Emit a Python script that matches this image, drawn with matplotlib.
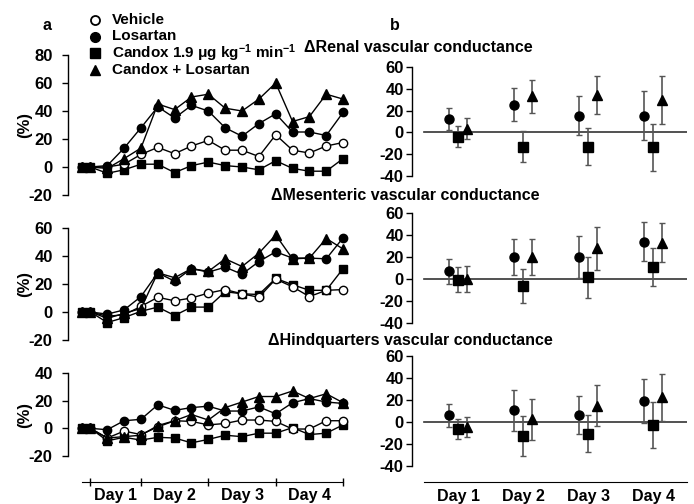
"""
Renal, mesenteric and hindquarters vascular conductance: time course (a) and daily means (b)
"""

import matplotlib
matplotlib.use('Agg')
import matplotlib.pyplot as plt

plt.rcParams['font.family'] = ['Liberation Sans', 'DejaVu Sans']
plt.rcParams['font.weight'] = 'bold'
plt.rcParams['font.size'] = 11
plt.rcParams['axes.unicode_minus'] = False
plt.rcParams['mathtext.fontset'] = 'custom'
plt.rcParams['mathtext.rm'] = 'Liberation Sans:bold'
plt.rcParams['mathtext.it'] = 'Liberation Sans:bold'
plt.rcParams['mathtext.bf'] = 'Liberation Sans:bold'
plt.rcParams['mathtext.default'] = 'rm'

# ---- panel a: time course (x = sample index, two baseline points then 15 samples)
time = [-0.5, 0, 1, 2, 3, 4, 5, 6, 7, 8, 9, 10, 11, 12, 13, 14, 15]
day_bounds = [0, 3, 7, 11, 15]
day_centres = [1.5, 5, 9, 13]
day_labels = ['Day 1', 'Day 2', 'Day 3', 'Day 4']

renal_vehicle = [0, 0, 0, 2, 9, 14, 9.5, 15, 19, 12, 12, 7.5, 23, 12, 10, 15, 17.5]
renal_losartan = [0, 0, 1, 13.5, 28, 43, 35, 44, 40, 28, 22, 31, 38, 25, 25, 22.5, 39]
renal_candox = [0, 0, -4.5, -2, 2, 2, -4, 1, 3.5, 1, 0, -2, 4.5, -1, -3, -3, 6]
renal_candox_los = [0, 0, -1, 6, 13.5, 45, 41, 50, 52, 42, 40, 48.5, 60, 32.5, 36, 52, 48.5]

mes_vehicle = [0, 0, -3, -2, 4, 10.5, 8, 10, 13.5, 16, 13, 10.5, 23.5, 18, 11, 15.5, 16]
mes_losartan = [0, 0, -1.5, 1.5, 11, 28, 22, 31, 28.5, 32, 27, 36, 43, 38.5, 38.5, 38, 53]
mes_candox = [0, 0, -7.5, -4, 0.5, 3.5, -2.5, 3.5, 3.5, 14.5, 13, 12.5, 24, 19.5, 15.5, 15.5, 31]
mes_candox_los = [0, 0, -4.5, -1, 2.5, 28, 24.5, 31, 29, 38, 32.5, 42, 55, 38, 38.5, 52.5, 45]

hind_vehicle = [0, 0, -7, -2, -4.5, 1, 5.5, 5, 2.5, 3.5, 6, 6, 5, -0.5, -0.5, 5.5, 5.5]
hind_losartan = [0, 0, -1, 5.5, 6.5, 17, 13, 15, 16, 12.5, 12.5, 15.5, 10.5, 18.5, 21.5, 19, 18]
hind_candox = [0, 0, -9, -6.5, -8.5, -6.5, -7, -10.5, -8, -5, -6, -3.5, -3.5, 0.5, -4.5, -3.5, 2.5]
hind_candox_los = [0, 0, -7, -6, -5, 2, 5.5, 10, 6, 15, 19, 23, 23, 27, 21.5, 25, 18.5]

# ---- panel b: daily means +/- error
days = [1, 2, 3, 4]

renal_los_mean = [12, 25.5, 15.5, 15.5]
renal_los_err = [10, 15, 17.5, 22.5]
renal_cdx_mean = [-4, -13, -13, -13.5]
renal_cdx_err = [9.5, 14, 17, 21.5]
renal_cl_mean = [3.5, 33, 34, 29.5]
renal_cl_err = [10, 15, 17.5, 22]

mes_los_mean = [7, 20, 20, 34]
mes_los_err = [11.5, 16.5, 19.5, 17.5]
mes_cdx_mean = [-0.5, -6, 1.5, 11]
mes_cdx_err = [11.5, 15.5, 18.5, 17]
mes_cl_mean = [0, 20, 28, 33]
mes_cl_err = [11.5, 16.5, 19.5, 17.5]

hind_los_mean = [6, 10.5, 6.5, 19.5]
hind_los_err = [10.5, 18.5, 17.5, 20]
hind_cdx_mean = [-6, -12.5, -10.5, -3]
hind_cdx_err = [9, 18, 16.5, 21]
hind_cl_mean = [-4.5, 2.5, 15, 22.5]
hind_cl_err = [9.5, 18.5, 18.5, 21.5]

legend_labels = ['Vehicle', 'Losartan', 'Candox 1.9 \u03bcg kg$^{-1}$ min$^{-1}$', 'Candox + Losartan']

W, H = 694, 504
fig = plt.figure(figsize=(W / 100, H / 100), dpi=100)
TICK_FS = 12


def px_axes(left, top, right, bottom):
    return fig.add_axes([left / W, 1 - bottom / H, (right - left) / W, (bottom - top) / H])


def style_left(ax, lo, hi, pad):
    for s in ['top', 'right', 'bottom']:
        ax.spines[s].set_visible(False)
    ax.spines['left'].set_bounds(lo, hi)
    ax.spines['left'].set_linewidth(1.0)
    ax.set_yticks(range(lo, hi + 1, 20))
    ax.tick_params(axis='y', direction='out', length=4, width=1, pad=pad, labelsize=TICK_FS)
    ax.tick_params(axis='x', bottom=False, labelbottom=False)
    for lab in ax.get_yticklabels():
        lab.set_fontweight('bold')


# ---- left time-course panels
left_sets = [
    (renal_vehicle, renal_losartan, renal_candox, renal_candox_los, 55, 195, -20, 80),
    (mes_vehicle, mes_losartan, mes_candox, mes_candox_los, 228, 340, -20, 60),
    (hind_vehicle, hind_losartan, hind_candox, hind_candox_los, 373, 456, -20, 40),
]
AX_BOTTOM = 482
for i, (veh, los, cdx, cl, top, bot, lo, hi) in enumerate(left_sets):
    last = i == len(left_sets) - 1
    if last:
        ax = px_axes(68, top, 350, AX_BOTTOM)
        ax.set_ylim(lo - (AX_BOTTOM - bot) / (bot - top) * (hi - lo), hi)
    else:
        ax = px_axes(68, top, 350, bot)
        ax.set_ylim(lo, hi)
    ax.set_xlim(-1.33, 15.41)
    style_left(ax, lo, hi, pad=7)
    kw = dict(color='black', linewidth=1.0, clip_on=False)
    ax.plot(time, cdx, marker='s', ms=5.5, mfc='black', mec='black', **kw)
    ax.plot(time, veh, marker='o', ms=6, mfc='white', mec='black', mew=1.0, **kw)
    ax.plot(time, los, marker='o', ms=6, mfc='black', mec='black', **kw)
    ax.plot(time, cl, marker='^', ms=6.5, mfc='black', mec='black', **kw)
    ax.set_ylabel('(%)', fontsize=TICK_FS, fontweight='bold')
    ax.yaxis.set_label_coords((32 - 68) / 282, (lo + hi) / 2, transform=ax.get_yaxis_transform())
    if last:
        ax.spines['bottom'].set_visible(True)
        ax.spines['bottom'].set_bounds(-0.5, 15)
        ax.set_xticks(day_bounds)
        ax.set_xticklabels([])
        ax.tick_params(axis='x', bottom=True, direction='inout', length=6, width=1)
        ax.set_xticks(day_centres, minor=True)
        ax.set_xticklabels(day_labels, minor=True, fontsize=11.5, fontweight='bold')
        ax.tick_params(axis='x', which='minor', bottom=True, length=0, pad=4, labelbottom=True)

# ---- right daily-mean panels
right_sets = [
    (renal_los_mean, renal_los_err, renal_cdx_mean, renal_cdx_err, renal_cl_mean, renal_cl_err, 67, 176),
    (mes_los_mean, mes_los_err, mes_cdx_mean, mes_cdx_err, mes_cl_mean, mes_cl_err, 213, 323),
    (hind_los_mean, hind_los_err, hind_cdx_mean, hind_cdx_err, hind_cl_mean, hind_cl_err, 356, 466),
]
off = 0.138
for i, (lm, le, cm, ce, tm, te, top, bot) in enumerate(right_sets):
    last = i == len(right_sets) - 1
    if last:
        ax = px_axes(412, top, 687, AX_BOTTOM)
        ax.set_ylim(-40 - (AX_BOTTOM - bot) / (bot - top) * 100, 60)
    else:
        ax = px_axes(412, top, 687, bot)
        ax.set_ylim(-40, 60)
    ax.set_xlim(0.292, 4.523)
    style_left(ax, -40, 60, pad=2)
    ax.axhline(0, xmin=(424 - 412) / (687 - 412), xmax=1, color='#333333', linewidth=1.2, zorder=1)
    ekw = dict(ecolor='#555555', elinewidth=1.2, capsize=2.5, capthick=1.0, linestyle='none',
               color='black', zorder=3)
    ax.errorbar([d - off for d in days], lm, yerr=le, marker='o', ms=6.5, **ekw)
    ax.errorbar(days, cm, yerr=ce, marker='s', ms=6.5, **ekw)
    ax.errorbar([d + off for d in days], tm, yerr=te, marker='^', ms=7, **ekw)
    if last:
        ax.spines['bottom'].set_visible(True)
        ax.spines['bottom'].set_bounds((424 - 393) / 65, 4.523)
        ax.set_xticks(days)
        ax.set_xticklabels(day_labels, fontsize=11.5, fontweight='bold')
        ax.tick_params(axis='x', bottom=True, length=0, pad=5, labelbottom=True)

# ---- titles, panel letters
fig.text(418 / W, 1 - 47 / H, '\u0394Renal vascular conductance', ha='center', va='center', fontsize=11.5)
fig.text(405 / W, 1 - 195 / H, '\u0394Mesenteric vascular conductance', ha='center', va='center', fontsize=11.5)
fig.text(410 / W, 1 - 340 / H, '\u0394Hindquarters vascular conductance', ha='center', va='center', fontsize=11.5)
fig.text(47 / W, 1 - 25 / H, 'a', ha='center', va='center', fontsize=11.5)
fig.text(395 / W, 1 - 25 / H, 'b', ha='center', va='center', fontsize=11.5)

# ---- legend, drawn in pixel coordinates of an overlay
lax = fig.add_axes([0, 0, 1, 1])
lax.set_xlim(0, W)
lax.set_ylim(H, 0)
lax.axis('off')
leg_styles = [
    dict(marker='o', ms=6.5, mfc='white', mec='black', mew=1.3),
    dict(marker='o', ms=7, mfc='black', mec='black'),
    dict(marker='s', ms=6.5, mfc='black', mec='black'),
    dict(marker='^', ms=7.5, mfc='black', mec='black'),
]
leg_rows = [20, 36.5, 53, 70]
for yrow, style, lab in zip(leg_rows, leg_styles, legend_labels):
    lax.plot([95], [yrow], linestyle='none', **style)
    lax.text(112, yrow, lab, ha='left', va='center', fontsize=11, fontweight='bold')

plt.savefig('out.png', dpi=100)
plt.close()
